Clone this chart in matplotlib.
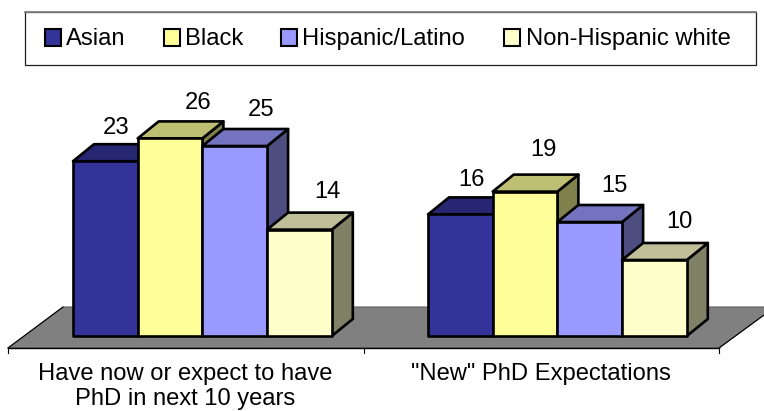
import matplotlib
matplotlib.use('Agg')
from matplotlib import pyplot as plt
from matplotlib.patches import Polygon, Rectangle

groups = ['Have now or expect to have\nPhD in next 10 years', '"New" PhD Expectations']
series = ['Asian', 'Black', 'Hispanic/Latino', 'Non-Hispanic white']
have_now = [23, 26, 25, 14]
new_phd = [16, 19, 15, 10]
front_colors = ['#333399', '#FFFF99', '#9999FF', '#FFFFCC']

plt.rcParams['font.family'] = ['Liberation Sans', 'DejaVu Sans']

W, H = 764, 411
PX_X = 64.7     # one bar width
PX_Y = 7.6      # one percent
LEFT, BASE = 73, 336
DX, DY = 21 / PX_X, 17 / PX_Y
GROUP_START = [0, 355 / PX_X]
LW = 1.9
FS = 17.1
# value label nudges, pixels right of the bar centre / above the bar top
NUDGE = [[(11, 33), (28, 35), (26, 36), (28, 38)],
         [(11, 34), (18, 42), (25, 36), (25, 38)]]


def shade(color, k):
    rgb = matplotlib.colors.to_rgb(color)
    return tuple(c * k for c in rgb)


fig = plt.figure(figsize=(W / 100, H / 100), dpi=100)
ax = fig.add_axes([0, 0, 1, 1])
ax.set_xlim(-LEFT / PX_X, (W - LEFT) / PX_X)
ax.set_ylim(-(H - BASE) / PX_Y, BASE / PX_Y)
ax.axis('off')


def px(x, y):
    # pixel position to data position, for the floor and the ticks
    return (x - LEFT) / PX_X, (BASE - y) / PX_Y


# floor
ax.add_patch(Polygon([px(8, 348), px(63, 307), px(775, 307), px(719, 348)],
                     closed=True, fc='#808080', ec='#606060', lw=0.8, zorder=1))
ax.plot(*zip(px(8, 348), px(719, 348)), color='black', lw=1, zorder=2)
ax.plot(*zip(px(8, 348), px(63, 307)), color='black', lw=0.8, zorder=2)
ax.plot(*zip(px(719, 348), px(764, 315)), color='black', lw=0.8, zorder=2)
for tx in [8, 363.5, 719]:
    ax.plot(*zip(px(tx, 348), px(tx, 353)), color='black', lw=0.8, zorder=2)

# bars, drawn left to right so each one covers the side of the previous one
for g, values in enumerate([have_now, new_phd]):
    for i, v in enumerate(values):
        x0 = GROUP_START[g] + i
        x1 = x0 + 1
        col = front_colors[i]
        ax.add_patch(Polygon([(x1, 0), (x1 + DX, DY), (x1 + DX, v + DY), (x1, v)],
                             fc=shade(col, 0.5), ec='black', lw=LW, joinstyle='round', zorder=3))
        ax.add_patch(Polygon([(x0, v), (x0 + DX, v + DY), (x1 + DX, v + DY), (x1, v)],
                             fc=shade(col, 0.75), ec='black', lw=LW, joinstyle='round', zorder=3))
        ax.add_patch(Rectangle((x0, 0), 1, v, fc=col, ec='black', lw=LW, joinstyle='round', zorder=3))
        nx, ny = NUDGE[g][i]
        ax.annotate(str(v), (x0 + 0.5, v), xytext=(nx * 0.72, ny * 0.72),
                    textcoords='offset points', ha='center', va='center',
                    fontsize=FS, zorder=5)

# category labels
first, second = groups[0].split('\n')
ax.text(*px(185.5, 380), first, ha='center', va='baseline', fontsize=FS)
ax.text(*px(185.5, 405), second, ha='center', va='baseline', fontsize=FS)
ax.text(*px(541, 380), groups[1], ha='center', va='baseline', fontsize=FS)

# legend
ax.add_patch(Rectangle(px(25, 64.5), 731 / PX_X, 53 / PX_Y, fc='white', ec='#202020', lw=0.9, zorder=4))
ax.plot(*zip(px(25, 11.5), px(756, 11.5)), color='#808080', lw=1.3, zorder=4)
for col, mx in zip(front_colors, [45, 164, 281, 504]):
    ax.add_patch(Rectangle(px(mx, 45.5), 16 / PX_X, 16 / PX_Y, fc=col, ec='black', lw=1.5, zorder=5))
for name, tx in zip(series, [66, 185, 302, 526]):
    ax.text(*px(tx, 45), name, ha='left', va='baseline', fontsize=FS, zorder=5)

fig.savefig('out.png', dpi=100)
